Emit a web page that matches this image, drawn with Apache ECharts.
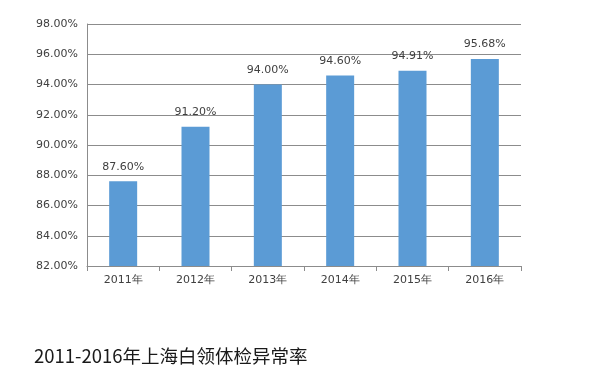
<!DOCTYPE html>
<html><head><meta charset="utf-8">
<script src="https://cdn.jsdelivr.net/npm/echarts@6/dist/echarts.min.js"></script>
<style>html,body{margin:0;padding:0;background:#fff}#c{width:602px;height:390px}</style>
</head><body><div id="c"></div>
<script>
var categories = ['2011年','2012年','2013年','2014年','2015年','2016年'];
var values = [87.60, 91.20, 94.00, 94.60, 94.91, 95.68];
var titleText = '2011-2016年上海白领体检异常率';
var chart = echarts.init(document.getElementById('c'));
chart.setOption({
  animation: false,
  title: {text: titleText, left: 29, top: 342, textStyle: {fontFamily: 'Noto Sans CJK SC', fontSize: 18.5, fontWeight: 'normal', color: '#1a1a1a'}},
  grid: {left: 87, right: 81, top: 24, bottom: 124},
  xAxis: {type: 'category', data: categories,
    axisLine: {lineStyle: {color: '#8c8c8c'}},
    axisTick: {show: true, length: 5, lineStyle: {color: '#8c8c8c'}},
    axisLabel: {color: '#404040', fontSize: 11, fontFamily: 'DejaVu Sans', margin: 9}},
  yAxis: {type: 'value', min: 82, max: 98, interval: 2,
    axisLine: {show: true, lineStyle: {color: '#8c8c8c'}},
    axisTick: {show: false},
    splitLine: {lineStyle: {color: '#8c8c8c'}},
    axisLabel: {color: '#404040', fontSize: 11, fontFamily: 'DejaVu Sans', margin: 9, formatter: function(v){return v.toFixed(2)+'%';}}},
  series: [{type: 'bar', data: values, barWidth: 28, itemStyle: {color: '#5b9bd5'},
    label: {show: true, position: 'top', distance: 9, color: '#404040', fontSize: 11, fontFamily: 'DejaVu Sans', formatter: function(p){return p.value.toFixed(2)+'%';}}}]
});
</script></body></html>
